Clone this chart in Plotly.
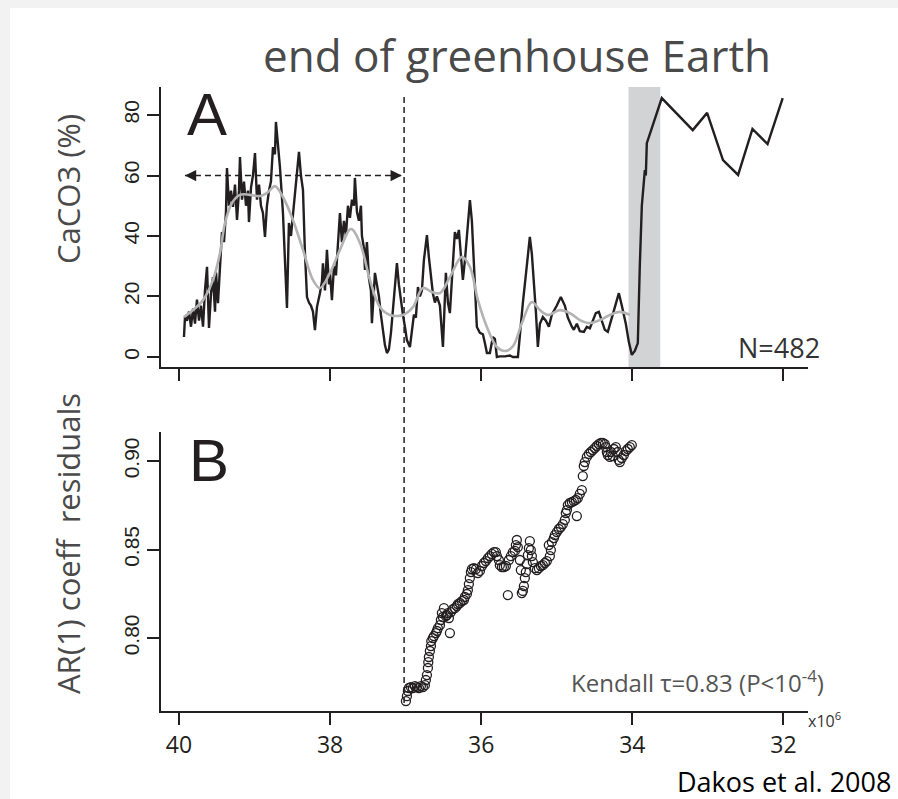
import plotly.graph_objects as go

# ---- CaCO3 record: age (Myr before present) and carbonate content (%) ----
age_caco3 = [
    39.933, 39.919, 39.893, 39.866, 39.840, 39.813, 39.787, 39.761, 39.734, 39.708,
    39.681, 39.655, 39.628, 39.602, 39.575, 39.549, 39.522, 39.509, 39.483, 39.456,
    39.430, 39.403, 39.377, 39.364, 39.337, 39.311, 39.284, 39.258, 39.231, 39.205,
    39.192, 39.165, 39.139, 39.112, 39.086, 39.073, 39.046, 39.020, 38.993, 38.967,
    38.940, 38.914, 38.888, 38.861, 38.835, 38.808, 38.782, 38.755, 38.729, 38.716,
    38.689, 38.663, 38.623, 38.597, 38.570, 38.544, 38.517, 38.491, 38.451, 38.411,
    38.385, 38.358, 38.332, 38.305, 38.279, 38.253, 38.226, 38.200, 38.173, 38.147,
    38.134, 38.107, 38.094, 38.067, 38.041, 38.014, 38.001, 37.975, 37.948, 37.922,
    37.895, 37.869, 37.843, 37.816, 37.790, 37.763, 37.737, 37.710, 37.684, 37.671,
    37.644, 37.618, 37.591, 37.578, 37.551, 37.538, 37.512, 37.485, 37.459, 37.446,
    37.419, 37.406, 37.380, 37.353, 37.327, 37.300, 37.274, 37.247, 37.221, 37.194,
    37.168, 37.141, 37.115, 37.089, 37.062, 37.036, 37.009, 36.983, 36.943, 36.917,
    36.890, 36.864, 36.837, 36.811, 36.784, 36.758, 36.718, 36.692, 36.665, 36.639,
    36.612, 36.586, 36.546, 36.506, 36.467, 36.440, 36.414, 36.387, 36.374, 36.348,
    36.321, 36.295, 36.268, 36.242, 36.215, 36.189, 36.149, 36.123, 36.096, 36.057,
    36.017, 35.977, 35.951, 35.924, 35.885, 35.845, 35.819, 35.792, 35.752, 35.686,
    35.620, 35.581, 35.514, 35.488, 35.448, 35.422, 35.382, 35.356, 35.329, 35.303,
    35.276, 35.250, 35.223, 35.184, 35.144, 35.104, 35.065, 34.999, 34.946, 34.893,
    34.853, 34.800, 34.774, 34.734, 34.694, 34.641, 34.602, 34.562, 34.522, 34.483,
    34.443, 34.403, 34.364, 34.324, 34.284, 34.245, 34.178, 34.139, 34.086, 34.046,
    34.006, 33.967, 33.927, 33.901, 33.874, 33.834, 33.821, 33.808, 33.61, 33.20,
    33.01, 32.80, 32.60, 32.41, 32.21, 32.01,
]
caco3 = [
    6.6, 13.5, 12, 15, 10, 16, 11, 19, 12, 17,
    10, 22, 29.8, 9.6, 21, 26.4, 15, 28, 17.8, 30,
    41.3, 38, 48, 62.5, 50, 55, 49.6, 57, 45.3, 55,
    66.1, 52, 58, 50, 55, 44.6, 56, 60, 67.4, 52,
    57, 50, 47.6, 39.7, 50, 55, 58, 69.4, 67, 77.7,
    70, 62.8, 47.6, 30, 16.2, 44.3, 40, 47, 58.5, 67.8,
    60, 55.2, 34.4, 19.8, 18, 17, 15, 8.9, 16.5, 19,
    21.1, 25, 31, 22, 35.4, 24, 28, 18.8, 30, 27,
    38, 47.6, 38, 45, 40, 50, 46, 52, 50, 59.2,
    48, 45, 50, 40, 36, 28.8, 38, 26, 22, 11.2,
    22, 27.8, 24, 20, 14, 8, 4, 1.3, 2.5, 8,
    16.5, 24, 31, 24, 18, 14, 10, 5.6, 3.3, 9,
    14, 13, 23.1, 20, 22, 32, 40.3, 33, 26, 21,
    18, 20, 17, 3.3, 27.8, 18, 14.5, 28, 31, 41.3,
    39, 42, 34, 25.5, 32, 40, 51.9, 45, 30, 9.9,
    8, 7.5, 4.6, 1.3, 1.3, 6.6, 6, 0, 0.2, 0.2,
    0.5, 0, 0, 8, 18, 24, 33, 39.7, 34, 26,
    15, 3.3, 11, 13.2, 12, 10, 14, 17, 19.8, 17,
    13, 10, 9, 11, 8.5, 8.3, 10, 9.5, 12, 14.5,
    14.9, 12, 9, 8.3, 12, 15, 21.1, 17, 11, 5,
    0.7, 2, 4.6, 30, 50, 61.8, 60, 70.7, 85.6, 75,
    80.7, 65.1, 60.2, 75.4, 70.4, 85.6,
]

# ---- smoothed CaCO3 trend ----
age_trend = [
    39.933, 39.813, 39.681, 39.549, 39.456, 39.390, 39.298, 39.192, 39.060, 38.927,
    38.821, 38.729, 38.623, 38.491, 38.358, 38.226, 38.134, 38.001, 37.869, 37.723,
    37.604, 37.472, 37.340, 37.208, 37.036, 36.903, 36.771, 36.652, 36.546, 36.414,
    36.255, 36.149, 36.043, 35.924, 35.792, 35.686, 35.581, 35.461, 35.329, 35.223,
    35.118, 34.959, 34.827, 34.694, 34.562, 34.430, 34.297, 34.165, 34.033,
]
caco3_trend = [
    13.2, 15.5, 18.8, 25.5, 34.4, 44.3, 50.9, 53.6, 53.6, 53.2,
    54.5, 56.5, 52.9, 45.3, 35.4, 25.5, 22.8, 27.8, 35.4, 42.3,
    37.7, 25.5, 16.5, 13.9, 13.9, 16.5, 22.8, 21.5, 21.1, 26.4,
    33.1, 29.8, 18.8, 9.9, 3.3, 2.0, 3.5, 11.2, 18.2, 15.5,
    13.9, 15.5, 14.5, 12.2, 11.2, 12.2, 13.9, 14.9, 13.9,
]

# ---- AR(1) coefficient of the residuals ----
age_ar1 = [
    36.996, 36.983, 36.970, 36.956, 36.930, 36.904, 36.877, 36.851, 36.824, 36.798,
    36.771, 36.745, 36.732, 36.718, 36.705, 36.700, 36.692, 36.679, 36.665, 36.660,
    36.639, 36.626, 36.599, 36.586, 36.573, 36.546, 36.533, 36.520, 36.507, 36.493,
    36.467, 36.454, 36.441, 36.427, 36.414, 36.401, 36.374, 36.348, 36.322, 36.308,
    36.282, 36.255, 36.229, 36.216, 36.189, 36.176, 36.163, 36.150, 36.136, 36.123,
    36.097, 36.070, 36.044, 36.017, 35.991, 35.964, 35.938, 35.911, 35.885, 35.859,
    35.832, 35.806, 35.792, 35.766, 35.753, 35.726, 35.700, 35.673, 35.647, 35.634,
    35.607, 35.581, 35.554, 35.541, 35.528, 35.515, 35.488, 35.475, 35.462, 35.448,
    35.435, 35.422, 35.409, 35.396, 35.382, 35.369, 35.356, 35.343, 35.329, 35.316,
    35.290, 35.263, 35.237, 35.210, 35.184, 35.157, 35.131, 35.105, 35.091, 35.078,
    35.065, 35.038, 35.025, 34.999, 34.972, 34.946, 34.919, 34.893, 34.880, 34.866,
    34.853, 34.827, 34.800, 34.774, 34.747, 34.734, 34.721, 34.695, 34.668, 34.655,
    34.642, 34.628, 34.602, 34.575, 34.549, 34.523, 34.496, 34.470, 34.443, 34.417,
    34.390, 34.364, 34.351, 34.337, 34.324, 34.298, 34.284, 34.258, 34.245, 34.218,
    34.192, 34.179, 34.165, 34.139, 34.112, 34.086, 34.060, 34.033, 34.007,
]
ar1 = [
    0.7644, 0.7672, 0.7701, 0.7718, 0.7723, 0.7718, 0.7729, 0.7723, 0.7718, 0.7729,
    0.7723, 0.7734, 0.7763, 0.7791, 0.7831, 0.7864, 0.7893, 0.7927, 0.7955, 0.7983,
    0.8000, 0.8011, 0.8028, 0.8040, 0.8056, 0.8073, 0.8102, 0.8141, 0.8119, 0.8169,
    0.8124, 0.8130, 0.8141, 0.8113, 0.8028, 0.8147, 0.8164, 0.8169, 0.8181, 0.8192,
    0.8198, 0.8209, 0.8215, 0.8232, 0.8249, 0.8271, 0.8305, 0.8339, 0.8373, 0.8390,
    0.8395, 0.8390, 0.8367, 0.8379, 0.8407, 0.8424, 0.8435, 0.8452, 0.8463, 0.8475,
    0.8486, 0.8486, 0.8463, 0.8441, 0.8412, 0.8401, 0.8401, 0.8407, 0.8243, 0.8441,
    0.8463, 0.8486, 0.8492, 0.8525, 0.8554, 0.8514, 0.8441, 0.8384, 0.8254, 0.8266,
    0.8294, 0.8339, 0.8373, 0.8418, 0.8469, 0.8508, 0.8548, 0.8497, 0.8463, 0.8429,
    0.8395, 0.8384, 0.8395, 0.8407, 0.8412, 0.8424, 0.8435, 0.8525, 0.8463, 0.8497,
    0.8542, 0.8565, 0.8582, 0.8599, 0.8616, 0.8627, 0.8644, 0.8667, 0.8706, 0.8723,
    0.8751, 0.8763, 0.8768, 0.8774, 0.8780, 0.8689, 0.8791, 0.8814, 0.8836, 0.8915,
    0.8972, 0.8994, 0.9023, 0.9040, 0.9051, 0.9062, 0.9073, 0.9085, 0.9096, 0.9102,
    0.9102, 0.9096, 0.9079, 0.9051, 0.9034, 0.9023, 0.9051, 0.9028, 0.9068, 0.9079,
    0.9051, 0.9006, 0.8994, 0.9017, 0.9034, 0.9056, 0.9068, 0.9079, 0.9090,
]

# tick values
age_ticks = [40, 38, 36, 34, 32]
caco3_ticks = [0, 20, 40, 60, 80]
ar1_ticks = [0.80, 0.85, 0.90]

# Eocene-Oligocene transition window, critical time and analysis window
transition_start, transition_end = 34.05, 33.63
critical_age = 37.02
window_start, window_end, window_level = 39.92, 37.05, 60

INK = "#231f20"
GREY_TEXT = "#4a4a4a"

# plot-area pixel frame used to place free text
L, R, T, B = 161, 808, 87, 711


def px_x(p):
    return (p - L) / (R - L)


def px_y(p):
    return (B - p) / (B - T)


fig = go.Figure()

fig.add_trace(go.Scatter(
    x=age_caco3, y=caco3, mode="lines",
    line=dict(color=INK, width=2.4), xaxis="x", yaxis="y",
    showlegend=False, hoverinfo="skip",
))
fig.add_trace(go.Scatter(
    x=age_trend, y=caco3_trend, mode="lines",
    line=dict(color="#b3b3b3", width=2.6, shape="spline", smoothing=1.0),
    xaxis="x", yaxis="y", showlegend=False, hoverinfo="skip",
))
fig.add_trace(go.Scatter(
    x=age_ar1, y=ar1, mode="markers",
    marker=dict(symbol="circle-open", size=9, color=INK, line=dict(width=1.3)),
    xaxis="x2", yaxis="y2", showlegend=False, hoverinfo="skip",
))

x_range = [40.237, 31.675]
common_x = dict(
    range=x_range, showline=True, linewidth=2, linecolor=INK,
    ticks="outside", ticklen=12, tickwidth=1.5, tickcolor=INK,
    tickvals=age_ticks, showgrid=False, zeroline=False,
)
common_y = dict(
    showline=True, linewidth=2, linecolor=INK,
    ticks="outside", ticklen=12, tickwidth=1.5, tickcolor=INK,
    showgrid=False, zeroline=False, tickangle=-90,
    tickfont=dict(family="Liberation Sans, Arial, sans-serif", size=21, color=INK),
)

fig.update_layout(
    width=898, height=799,
    margin=dict(l=L, r=898 - R, t=T, b=799 - B),
    paper_bgcolor="#f2f2f2", plot_bgcolor="rgba(0,0,0,0)",
    xaxis=dict(common_x, anchor="y", showticklabels=False),
    yaxis=dict(common_y, domain=[px_y(367), 1.0], range=[-3.31, 89.26],
               tickvals=caco3_ticks, anchor="x"),
    xaxis2=dict(common_x, anchor="y2", showticklabels=True,
                tickfont=dict(family="Open Sans, sans-serif", size=23, color=INK)),
    yaxis2=dict(common_y, domain=[0.0, px_y(432)], range=[0.7588, 0.9164],
                tickvals=ar1_ticks, tickformat=".2f", anchor="x2"),
)

shapes = [
    # white page
    dict(type="rect", xref="paper", yref="paper",
         x0=px_x(10), x1=px_x(905), y0=px_y(805), y1=px_y(8),
         fillcolor="white", line=dict(width=0), layer="below"),
    # transition band
    dict(type="rect", xref="x", yref="y domain",
         x0=transition_start, x1=transition_end, y0=0, y1=1,
         fillcolor="#d1d3d4", line=dict(width=0), layer="below"),
    # critical time marker across both panels
    dict(type="line", xref="x", yref="paper",
         x0=critical_age, x1=critical_age, y0=px_y(703), y1=px_y(97),
         line=dict(color=INK, width=1.5, dash="6px,4px")),
    # analysis window
    dict(type="line", xref="x", yref="y",
         x0=window_start, x1=window_end, y0=window_level, y1=window_level,
         line=dict(color=INK, width=1.5, dash="6px,4px")),
]
fig.update_layout(shapes=shapes)

annotations = [
    # arrow heads of the analysis window
    dict(x=window_start, y=window_level, ax=window_start - 0.12, ay=window_level,
         xref="x", yref="y", axref="x", ayref="y", text="", showarrow=True,
         arrowhead=2, arrowsize=1.5, arrowwidth=1.5, arrowcolor=INK),
    dict(x=window_end, y=window_level, ax=window_end + 0.12, ay=window_level,
         xref="x", yref="y", axref="x", ayref="y", text="", showarrow=True,
         arrowhead=2, arrowsize=1.5, arrowwidth=1.5, arrowcolor=INK),
    dict(x=px_x(517), y=px_y(55), xref="paper", yref="paper", showarrow=False,
         text="end of greenhouse Earth", xanchor="center", yanchor="middle",
         font=dict(family="Open Sans, sans-serif", size=44, color=GREY_TEXT)),
    dict(x=px_x(207), y=px_y(115), xref="paper", yref="paper", showarrow=False,
         text="A", xanchor="center", yanchor="middle",
         font=dict(family="Liberation Sans, Arial, sans-serif", size=60, color=INK)),
    dict(x=px_x(209), y=px_y(460), xref="paper", yref="paper", showarrow=False,
         text="B", xanchor="center", yanchor="middle",
         font=dict(family="Liberation Sans, Arial, sans-serif", size=60, color=INK)),
    dict(x=px_x(822), y=px_y(347), xref="paper", yref="paper", showarrow=False,
         text="N=482", xanchor="right", yanchor="middle",
         font=dict(family="Open Sans, sans-serif", size=27, color="#333333")),
    dict(x=px_x(826), y=px_y(681), xref="paper", yref="paper", showarrow=False,
         text="Kendall \u03c4=0.83 (P<10<sup>-4</sup>)", xanchor="right", yanchor="middle",
         font=dict(family="Open Sans, sans-serif", size=24, color="#555555")),
    dict(x=px_x(806), y=px_y(720), xref="paper", yref="paper", showarrow=False,
         text="x10<sup>6</sup>", xanchor="left", yanchor="middle",
         font=dict(family="Open Sans, sans-serif", size=16, color="#333333")),
    dict(x=px_x(892), y=px_y(781), xref="paper", yref="paper", showarrow=False,
         text="Dakos et al. 2008", xanchor="right", yanchor="middle", borderpad=0,
         font=dict(family="Open Sans, sans-serif", size=27, color="black")),
    dict(x=px_x(68), y=px_y(189), xref="paper", yref="paper", showarrow=False,
         text="CaCO3 (%)", textangle=-90, xanchor="center", yanchor="middle",
         font=dict(family="Open Sans, sans-serif", size=31, color=GREY_TEXT)),
    dict(x=px_x(68), y=px_y(544), xref="paper", yref="paper", showarrow=False,
         text="AR(1) coeff  residuals", textangle=-90, xanchor="center", yanchor="middle",
         font=dict(family="Open Sans, sans-serif", size=31, color=GREY_TEXT)),
]
fig.update_layout(annotations=annotations)

fig.write_html("out.html")
